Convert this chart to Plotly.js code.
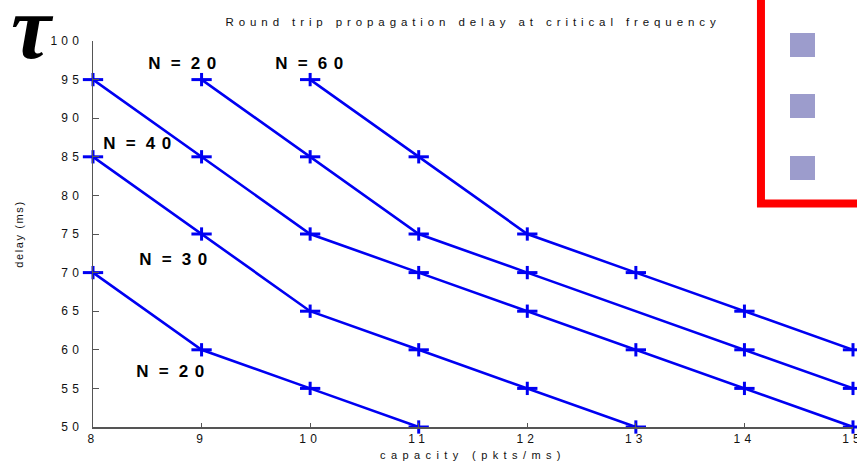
<!DOCTYPE html>
<html>
<head>
<meta charset="utf-8">
<script src="https://cdn.plot.ly/plotly-3.0.1.min.js"></script>
<style>
html,body{margin:0;padding:0;background:#fff;}
#chart{width:857px;height:464px;}
.gtitle{letter-spacing:4.9px;}
.xtick text,.ytick text{letter-spacing:4.2px;}
.xtitle{letter-spacing:5.4px;}
.ytitle{letter-spacing:1.6px;}
.annotation-text.nlab{letter-spacing:2.7px;}
</style>
</head>
<body>
<div id="chart"></div>
<script>
// Data (capacity in pkts/ms, delay in ms)
const capN20low = [8, 9, 10, 11];
const delayN20low = [70, 60, 55, 50];
const capN30 = [8, 9, 10, 11, 12, 13];
const delayN30 = [85, 75, 65, 60, 55, 50];
const capN40 = [8, 9, 10, 11, 12, 13, 14, 15];
const delayN40 = [95, 85, 75, 70, 65, 60, 55, 50];
const capN20high = [9, 10, 11, 12, 14, 15];
const delayN20high = [95, 85, 75, 70, 60, 55];
const capN60 = [10, 11, 12, 13, 14, 15];
const delayN60 = [95, 85, 75, 70, 65, 60];

const xTickVals = [8, 9, 10, 11, 12, 13, 14, 15];
const xTickText = ["8", "9", "10", "11", "12", "13", "14", "15"];
const yTickVals = [50, 55, 60, 65, 70, 75, 80, 85, 90, 95, 100];
const yTickText = ["50", "55", "60", "65", "70", "75", "80", "85", "90", "95", "100"];

const seriesNames = ["N = 20", "N = 30", "N = 40", "N = 20", "N = 60"];
const seriesX = [capN20low, capN30, capN40, capN20high, capN60];
const seriesY = [delayN20low, delayN30, delayN40, delayN20high, delayN60];

const BLUE = '#0000f2';
const traces = [];
seriesX.forEach((xs, i) => {
  // line with horizontal bar of the "+" marker
  traces.push({
    type: 'scatter', mode: 'lines+markers',
    x: xs, y: seriesY[i], name: seriesNames[i],
    cliponaxis: false,
    line: {color: BLUE, width: 2.6},
    marker: {symbol: 'line-ew', size: 14.5, line: {color: BLUE, width: 3}},
    showlegend: false, hoverinfo: 'skip'
  });
  // vertical bar of the "+" marker (shorter)
  traces.push({
    type: 'scatter', mode: 'markers',
    x: xs, y: seriesY[i], name: seriesNames[i],
    cliponaxis: false,
    marker: {symbol: 'line-ns', size: 9.5, line: {color: BLUE, width: 3}},
    showlegend: false, hoverinfo: 'skip'
  });
});

const labelFont = {family: 'Liberation Sans, Arial, sans-serif', size: 17, color: '#000', weight: 'bold'};
function nlab(prefix, digits, x, y) {
  return {text: prefix + '<span style="letter-spacing:6.5px">' + digits[0] + '</span>' + digits.slice(1),
          x: x, y: y, xref: 'x', yref: 'y', showarrow: false,
          font: labelFont, xanchor: 'center', yanchor: 'middle'};
}

const layout = {
  width: 857, height: 464,
  margin: {l: 93, r: 4, t: 41, b: 37},
  paper_bgcolor: '#fff', plot_bgcolor: '#fff',
  title: {text: 'Round trip propagation delay at critical frequency',
          font: {family: 'Liberation Sans, Arial, sans-serif', size: 11.5, color: '#111'},
          x: 0.552, xanchor: 'center', y: 0.952, yanchor: 'middle'},
  xaxis: {range: [8, 15], tickmode: 'array', tickvals: xTickVals, ticktext: xTickText,
          showgrid: false, zeroline: false, showline: true, linecolor: '#555', linewidth: 1.5,
          ticks: 'inside', ticklen: 4, tickcolor: '#555', mirror: false, ticklabeloverflow: 'allow',
          tickfont: {family: 'Liberation Sans, Arial, sans-serif', size: 12, color: '#111'},
          title: {text: 'capacity (pkts/ms)', standoff: 6,
                  font: {family: 'Liberation Sans, Arial, sans-serif', size: 11, color: '#111'}}},
  yaxis: {range: [50, 100], tickmode: 'array', tickvals: yTickVals, ticktext: yTickText,
          showgrid: false, zeroline: false, showline: true, linecolor: '#555', linewidth: 1.5,
          ticks: 'inside', ticklen: 6, tickcolor: '#555', ticklabelstandoff: 6, ticklabeloverflow: 'allow',
          tickfont: {family: 'Liberation Sans, Arial, sans-serif', size: 12, color: '#111'},
          title: {text: 'delay (ms)', standoff: 24,
                  font: {family: 'Liberation Sans, Arial, sans-serif', size: 11, color: '#111'}}},
  annotations: [
    nlab('N = ', '20', 8.83, 97.15),
    nlab('N = ', '60', 10.0, 97.15),
    nlab('N = ', '40', 8.42, 86.7),
    nlab('N = ', '30', 8.755, 71.7),
    nlab('N = ', '20', 8.72, 57.25),
    {text: 'τ', xref: 'paper', yref: 'paper', x: -0.080, y: 1.036, xanchor: 'center', yanchor: 'middle',
     showarrow: false,
     font: {family: 'Liberation Serif, serif', size: 90, color: '#000', weight: 'bold', style: 'italic'}}
  ],
  shapes: [
    {type: 'rect', xref: 'paper', yref: 'paper', x0: 0.8789, x1: 1.2, y0: 0.579, y1: 1.3,
     line: {color: '#ff0000', width: 8}, fillcolor: 'rgba(0,0,0,0)', layer: 'above'},
    {type: 'rect', xref: 'paper', yref: 'paper', x0: 0.9171, x1: 0.95, y0: 0.9585, y1: 1.0207,
     line: {width: 0}, fillcolor: '#9c9ccc'},
    {type: 'rect', xref: 'paper', yref: 'paper', x0: 0.9171, x1: 0.95, y0: 0.8005, y1: 0.8627,
     line: {width: 0}, fillcolor: '#9c9ccc'},
    {type: 'rect', xref: 'paper', yref: 'paper', x0: 0.9171, x1: 0.95, y0: 0.6399, y1: 0.7021,
     line: {width: 0}, fillcolor: '#9c9ccc'}
  ]
};

Plotly.newPlot('chart', traces, layout, {staticPlot: true, displayModeBar: false}).then(() => {
  document.querySelectorAll('.annotation-text').forEach(t => {
    if (t.textContent.indexOf('N') === 0) t.classList.add('nlab');
  });
});
</script>
</body>
</html>
